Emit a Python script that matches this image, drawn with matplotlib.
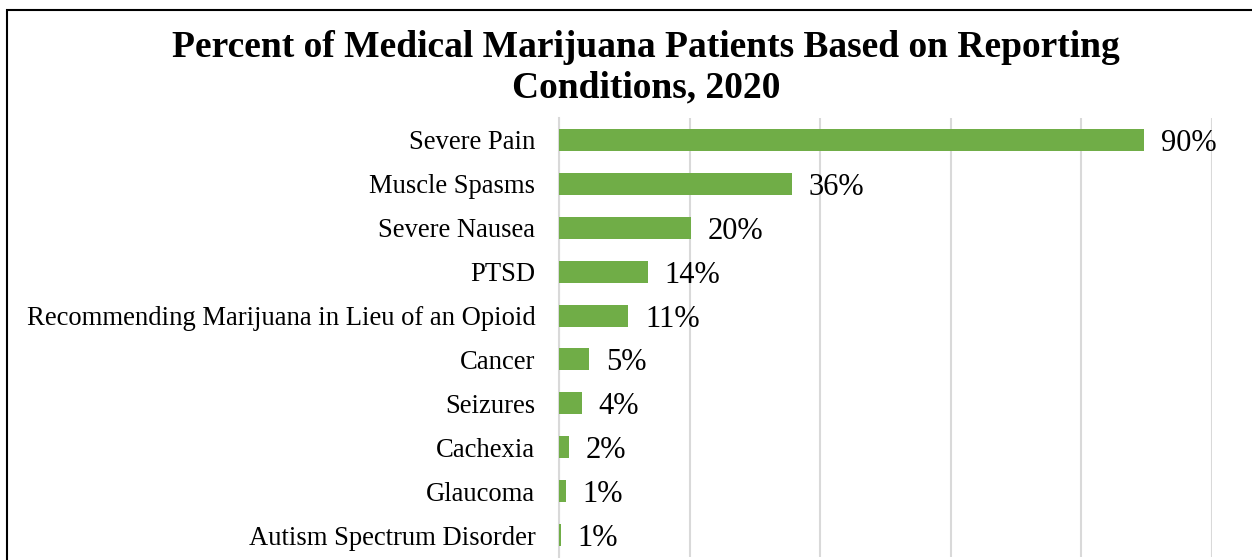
import matplotlib.pyplot as plt
from matplotlib.patches import Rectangle

conditions = ["Severe Pain", "Muscle Spasms", "Severe Nausea", "PTSD",
              "Recommending Marijuana in Lieu of an Opioid", "Cancer",
              "Seizures", "Cachexia", "Glaucoma", "Autism Spectrum Disorder"]
percents = [89.6, 35.7, 20.2, 13.6, 10.6, 4.6, 3.5, 1.5, 1.0, 0.3]
labels = ["90%", "36%", "20%", "14%", "11%", "5%", "4%", "2%", "1%", "1%"]

plt.rcParams['font.family'] = ['Liberation Serif', 'DejaVu Serif']

fig = plt.figure(figsize=(12.52, 5.6), dpi=100)
ax = fig.add_axes([559 / 1252, 3 / 560, 653 / 1252, 439 / 560])

pos = list(range(len(conditions)))
ax.barh(pos, percents, height=0.5, color="#70AD47", zorder=3)
for p, v, lab in zip(pos, percents, labels):
    ax.annotate(lab, (v, p), xytext=(12, -2.5), textcoords="offset points",
                va="center", ha="left", fontsize=22, zorder=4)

ax.set_xlim(0, 100)
ax.set_ylim(len(conditions) - 0.5, -0.5)
ax.set_xticks([0, 20, 40, 60, 80, 100])
ax.set_xticklabels([])
ax.tick_params(axis="x", length=0)
ax.set_yticks(pos)
ax.set_yticklabels(conditions, fontsize=19.2)
ax.tick_params(axis="y", length=0, pad=17)
ax.grid(axis="x", color="#D9D9D9", linewidth=1.5, zorder=0)
for s in ["top", "right", "bottom"]:
    ax.spines[s].set_visible(False)
ax.spines["left"].set_color("#D9D9D9")
ax.spines["left"].set_linewidth(1.5)

fig.text(646 / 1252, 1 - 68 / 560,
         "Percent of Medical Marijuana Patients Based on Reporting\nConditions, 2020",
         ha="center", va="center", fontsize=27, fontweight="bold", linespacing=1.22)

fig.patches.append(Rectangle((7 / 1252, -0.2), 1.2, 1.2 - 9.5 / 560,
                             transform=fig.transFigure, fill=False,
                             edgecolor="black", linewidth=1.5))

fig.savefig("out.png", dpi=100)
